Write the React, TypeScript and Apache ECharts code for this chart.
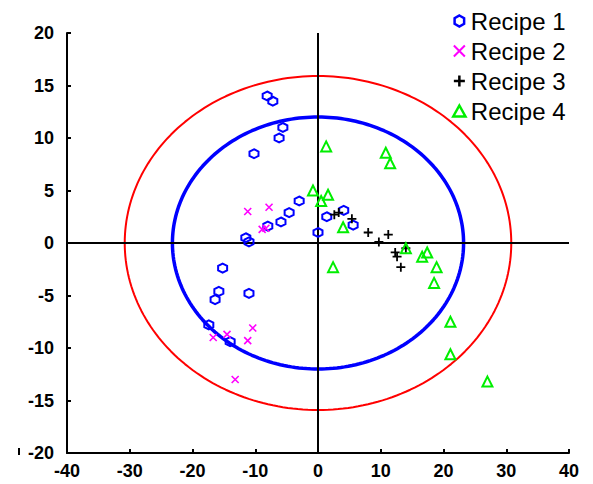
import React, { useEffect, useRef } from "react";
import * as echarts from "echarts";

// Sample scores per recipe: [PC1, PC2]
const recipe1: number[][] = [
  [-8.1, 14.0], [-7.2, 13.5], [-5.6, 11.0], [-6.2, 10.0], [-10.2, 8.5],
  [-3.0, 4.0], [-4.6, 2.9], [-5.9, 2.0], [-8.0, 1.6], [-11.5, 0.5],
  [-11.0, 0.1], [0.0, 1.0], [1.4, 2.5], [4.1, 3.1], [5.6, 1.7],
  [-15.2, -2.4], [-15.8, -4.6], [-16.4, -5.4], [-11.0, -4.8],
  [-17.4, -7.8], [-14.0, -9.4],
];
const recipe2: number[][] = [
  [-11.2, 3.0], [-7.8, 3.4], [-8.9, 1.3], [-8.3, 1.4],
  [-16.7, -9.0], [-14.5, -8.7], [-11.2, -9.3], [-10.4, -8.1], [-13.2, -13.0],
];
const recipe3: number[][] = [
  [2.6, 2.7], [3.3, 2.9], [5.4, 2.3], [8.0, 1.0], [11.2, 0.8],
  [9.7, 0.1], [12.3, -0.9], [12.6, -1.3], [13.2, -2.3], [14.0, -0.5],
];
const recipe4: number[][] = [
  [1.3, 9.2], [10.8, 8.6], [11.5, 7.6], [-0.8, 5.0], [0.5, 4.0], [1.6, 4.6],
  [4.0, 1.5], [2.4, -2.3], [14.0, -0.5], [16.6, -1.3], [17.4, -0.9],
  [18.9, -2.3], [18.5, -3.8], [21.1, -7.5], [21.1, -10.6], [27.0, -13.2],
];

// Confidence ellipses (semi-axes along x and y)
const innerEllipse = { rx: 23.2, ry: 12.0 };
const outerEllipse = { rx: 30.8, ry: 15.9 };

const seriesNames = ["Recipe 1", "Recipe 2", "Recipe 3", "Recipe 4"];
const seriesColors = ["#0000ff", "#ff00ff", "#000000", "#00ee00"];

const hexSymbol = "path://M5,0 L9.33,2.5 L9.33,7.5 L5,10 L0.67,7.5 L0.67,2.5 Z";
const crossSymbol = "path://M0,0 L10,10 M10,0 L0,10";
const plusSymbol = "path://M5,0 L5,10 M0,5 L10,5";
const triSymbol = "path://M5,0 L10,9 L0,9 Z";

const FONT = "'Liberation Sans', Arial, sans-serif";

function ellipseOutline(rx: number, ry: number, steps = 240): number[][] {
  const pts: number[][] = [];
  for (let i = 0; i <= steps; i++) {
    const t = (i / steps) * Math.PI * 2;
    pts.push([rx * Math.cos(t), ry * Math.sin(t)]);
  }
  return pts;
}

export default function App() {
  const ref = useRef<HTMLDivElement>(null);

  useEffect(() => {
    if (!ref.current) return;
    const chart = echarts.init(ref.current, undefined, { renderer: "svg" });

    const axisCommon = {
      type: "value" as const,
      axisLine: { show: true, onZero: false, lineStyle: { color: "#000", width: 2 } },
      axisTick: { show: true, inside: true, length: 4, lineStyle: { color: "#000", width: 2 } },
      splitLine: { show: false },
      axisLabel: { color: "#000", fontSize: 18, fontWeight: "bold" as const, fontFamily: FONT },
    };

    const scatter = (
      name: string,
      data: number[][],
      symbol: string,
      size: number | number[],
      color: string,
      width: number
    ) => ({
      name,
      type: "scatter",
      data,
      symbol,
      symbolSize: size,
      z: 5,
      itemStyle: { color: "transparent", borderColor: color, borderWidth: width, opacity: 1 },
    });

    chart.setOption({
      animation: false,
      backgroundColor: "#fff",
      grid: { left: 67, right: 24, top: 33, bottom: 31 },
      xAxis: {
        ...axisCommon,
        min: -40,
        max: 40,
        interval: 10,
        axisLabel: { ...axisCommon.axisLabel, margin: 9 },
      },
      yAxis: {
        ...axisCommon,
        min: -20,
        max: 20,
        interval: 5,
        axisLabel: { ...axisCommon.axisLabel, margin: 13 },
      },
      legend: {
        orient: "vertical",
        left: 447,
        top: 4,
        itemWidth: 13,
        itemHeight: 11,
        itemGap: 6,
        textStyle: { fontSize: 24, fontFamily: FONT, color: "#000", lineHeight: 24 },
        data: [
          { name: seriesNames[0], icon: hexSymbol, itemStyle: { color: "transparent", borderColor: seriesColors[0], borderWidth: 2.5 } },
          { name: seriesNames[1], icon: crossSymbol, itemStyle: { color: "transparent", borderColor: seriesColors[1], borderWidth: 2 } },
          { name: seriesNames[2], icon: plusSymbol, itemStyle: { color: "transparent", borderColor: seriesColors[2], borderWidth: 2.5 } },
          { name: seriesNames[3], icon: triSymbol, itemStyle: { color: "transparent", borderColor: seriesColors[3], borderWidth: 2.5 } },
        ],
      },
      series: [
        {
          name: "outer",
          type: "line",
          data: ellipseOutline(outerEllipse.rx, outerEllipse.ry),
          showSymbol: false,
          silent: true,
          z: 2,
          lineStyle: { color: "#ff0000", width: 2 },
          markLine: {
            silent: true,
            symbol: "none",
            label: { show: false },
            lineStyle: { color: "#000", width: 2, type: "solid" },
            data: [{ xAxis: 0 }, { yAxis: 0 }],
          },
        },
        {
          name: "inner",
          type: "line",
          data: ellipseOutline(innerEllipse.rx, innerEllipse.ry),
          showSymbol: false,
          silent: true,
          z: 1,
          lineStyle: { color: "#0000ff", width: 3.5 },
        },
        scatter(seriesNames[0], recipe1, hexSymbol, 9, seriesColors[0], 2),
        scatter(seriesNames[1], recipe2, crossSymbol, 7, seriesColors[1], 1.6),
        scatter(seriesNames[2], recipe3, plusSymbol, 9, seriesColors[2], 1.8),
        scatter(seriesNames[3], recipe4, triSymbol, 10, seriesColors[3], 2),
      ],
      graphic: [
        { type: "rect", left: 18, top: 448, shape: { width: 2, height: 7 }, style: { fill: "#000" } },
      ],
    });

    return () => chart.dispose();
  }, []);

  return <div ref={ref} style={{ width: 593, height: 484, position: "absolute", left: 0, top: 0 }} />;
}
